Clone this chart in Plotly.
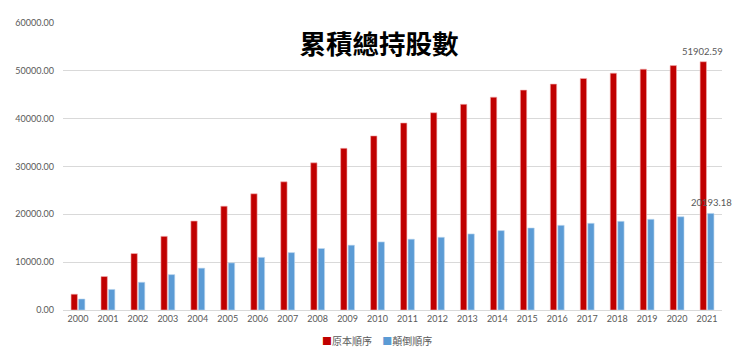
import plotly.graph_objects as go

years = [str(y) for y in range(2000, 2022)]
original = [3300, 7000, 11800, 15400, 18600, 21700, 24300, 26800, 30770, 33800,
            36400, 39100, 41250, 43000, 44500, 45970, 47230, 48400, 49520, 50350,
            51100, 51902.59]
reversed_ = [2300, 4300, 5800, 7400, 8750, 9850, 11000, 12000, 12850, 13550,
             14230, 14800, 15200, 15900, 16600, 17150, 17700, 18125, 18540, 18960,
             19500, 20193.18]
series_names = ["原本順序", "顛倒順序"]
colors = ["#C00000", "#5B9BD5"]

font_fam = "Lato, Noto Sans CJK TC, sans-serif"

fig = go.Figure()
fig.add_trace(go.Bar(
    x=years, y=original, name=series_names[0],
    marker=dict(color=colors[0], line=dict(color="#F4B0B0", width=0.6)),
))
fig.add_trace(go.Bar(
    x=years, y=reversed_, name=series_names[1],
    marker=dict(color=colors[1], line=dict(color="#BDD7EE", width=0.6)),
))

last = len(years) - 1
# data labels on the last category
fig.add_annotation(x=last, y=original[-1], text=f"{original[-1]:.2f}",
                   showarrow=False, yanchor="bottom", yshift=3, xshift=-5,
                   font=dict(size=9.5, color="#595959", family=font_fam))
fig.add_annotation(x=last, y=reversed_[-1], text=f"{reversed_[-1]:.2f}",
                   showarrow=False, yanchor="bottom", yshift=3, xshift=4,
                   font=dict(size=9.5, color="#595959", family=font_fam))

# legend drawn as text
legend_text = "    ".join(
    f"<span style='color:{c}'>■</span>{n}" for c, n in zip(colors, series_names))
fig.add_annotation(x=0.477, y=-0.108, xref="paper", yref="paper", text=legend_text,
                   showarrow=False, xanchor="center", yanchor="middle",
                   font=dict(size=10, color="#595959", family=font_fam))

fig.update_layout(
    width=732, height=353,
    margin=dict(l=55, r=18, t=15, b=51, autoexpand=False),
    paper_bgcolor="white", plot_bgcolor="white",
    barmode="group", bargap=0.5, bargroupgap=0.15,
    font=dict(family=font_fam, color="#595959", size=9),
    title=dict(text="<b>累積總持股數</b>", x=0.507, xanchor="center", y=0.895, yanchor="middle",
               font=dict(family="Noto Sans CJK TC", size=26.5, color="#000000")),
    showlegend=False,
)
fig.update_xaxes(type="category", range=[-0.5, last + 0.5], showgrid=False, showline=True,
                 linecolor="#D9D9D9", linewidth=1, ticks="", automargin=False,
                 tickfont=dict(size=9, color="#595959"))
fig.update_yaxes(range=[0, 60000], dtick=10000, tickformat=".2f", showgrid=True,
                 gridcolor="#D9D9D9", gridwidth=1, zeroline=False, showline=False,
                 ticks="", automargin=False, ticklabelstandoff=8,
                 tickfont=dict(size=9, color="#595959"))

fig.write_html("out.html")
